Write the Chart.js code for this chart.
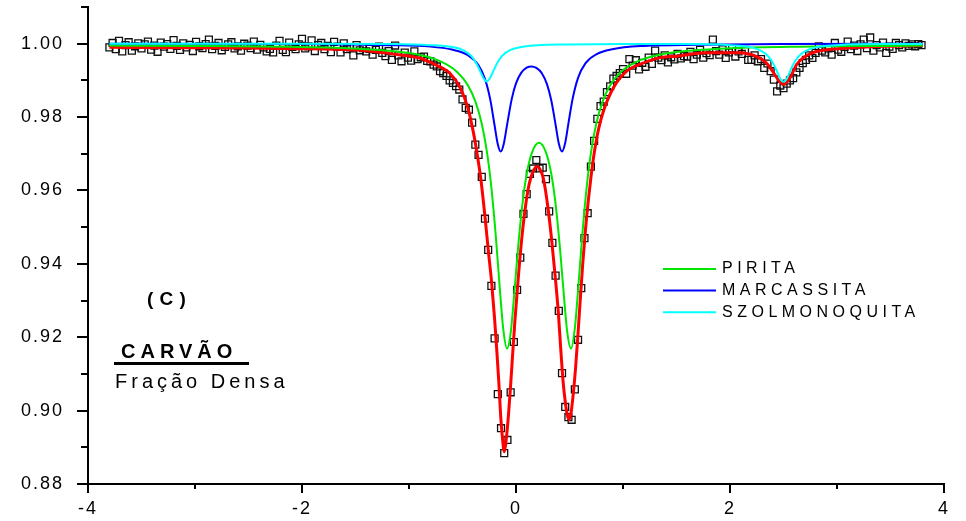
<!DOCTYPE html>
<html>
<head>
<meta charset="utf-8">
<script src="https://cdn.jsdelivr.net/npm/chart.js@4/dist/chart.umd.min.js"></script>
<style>
  html, body { margin: 0; padding: 0; background: #fff; }
  #wrap { width: 966px; height: 521px; }
</style>
</head>
<body>
<div id="wrap"><canvas id="spectrum" width="966" height="521"></canvas></div>
<script>
// Mossbauer spectrum, coal dense fraction (velocity in mm/s, relative transmission)

// experimental channels
const spectrumVel = [
  -3.80, -3.77, -3.74, -3.71, -3.68, -3.65, -3.62, -3.59, -3.56, -3.53,
  -3.50, -3.47, -3.44, -3.41, -3.38, -3.35, -3.32, -3.29, -3.26, -3.23,
  -3.20, -3.17, -3.14, -3.11, -3.08, -3.05, -3.02, -2.99, -2.96, -2.93,
  -2.90, -2.87, -2.84, -2.81, -2.78, -2.75, -2.72, -2.69, -2.66, -2.63,
  -2.60, -2.57, -2.54, -2.51, -2.48, -2.45, -2.42, -2.39, -2.36, -2.33,
  -2.30, -2.27, -2.24, -2.21, -2.18, -2.15, -2.12, -2.09, -2.06, -2.03,
  -2.00, -1.97, -1.94, -1.91, -1.88, -1.85, -1.82, -1.79, -1.76, -1.73,
  -1.70, -1.67, -1.64, -1.61, -1.58, -1.55, -1.52, -1.49, -1.46, -1.43,
  -1.40, -1.37, -1.34, -1.31, -1.28, -1.25, -1.22, -1.19, -1.16, -1.13,
  -1.10, -1.07, -1.04, -1.01, -0.98, -0.95, -0.92, -0.89, -0.86, -0.83,
  -0.80, -0.77, -0.74, -0.71, -0.68, -0.65, -0.62, -0.59, -0.56, -0.53,
  -0.50, -0.47, -0.44, -0.41, -0.38, -0.35, -0.32, -0.29, -0.26, -0.23,
  -0.20, -0.17, -0.14, -0.11, -0.08, -0.05, -0.02, 0.01, 0.04, 0.07,
  0.10, 0.13, 0.16, 0.19, 0.22, 0.25, 0.28, 0.31, 0.34, 0.37,
  0.40, 0.43, 0.46, 0.49, 0.52, 0.55, 0.58, 0.61, 0.64, 0.67,
  0.70, 0.73, 0.76, 0.79, 0.82, 0.85, 0.88, 0.91, 0.94, 0.97,
  1.00, 1.03, 1.06, 1.09, 1.12, 1.15, 1.18, 1.21, 1.24, 1.27,
  1.30, 1.33, 1.36, 1.39, 1.42, 1.45, 1.48, 1.51, 1.54, 1.57,
  1.60, 1.63, 1.66, 1.69, 1.72, 1.75, 1.78, 1.81, 1.84, 1.87,
  1.90, 1.93, 1.96, 1.99, 2.02, 2.05, 2.08, 2.11, 2.14, 2.17,
  2.20, 2.23, 2.26, 2.29, 2.32, 2.35, 2.38, 2.41, 2.44, 2.47,
  2.50, 2.53, 2.56, 2.59, 2.62, 2.65, 2.68, 2.71, 2.74, 2.77,
  2.80, 2.83, 2.86, 2.89, 2.92, 2.95, 2.98, 3.01, 3.04, 3.07,
  3.10, 3.13, 3.16, 3.19, 3.22, 3.25, 3.28, 3.31, 3.34, 3.37,
  3.40, 3.43, 3.46, 3.49, 3.52, 3.55, 3.58, 3.61, 3.64, 3.67,
  3.70, 3.73, 3.76, 3.79
];
const spectrumT = [
  0.9990, 1.0002, 0.9985, 1.0008, 0.9979, 0.9996, 1.0004, 0.9981, 0.9993, 1.0001,
  0.9987, 0.9998, 1.0006, 0.9984, 0.9995, 0.9978, 1.0003, 0.9992, 0.9999, 0.9986,
  1.0010, 0.9994, 0.9983, 1.0001, 0.9990, 0.9997, 0.9980, 1.0005, 0.9993, 0.9988,
  0.9999, 1.0011, 0.9985, 0.9994, 1.0002, 0.9982, 0.9991, 0.9998, 1.0004, 0.9987,
  0.9993, 0.9981, 1.0000, 0.9995, 0.9988, 1.0006, 0.9984, 0.9997, 0.9990, 0.9979,
  0.9986, 0.9976, 0.9995, 1.0008, 0.9983, 0.9977, 1.0003, 0.9991, 0.9985, 0.9998,
  1.0013, 0.9987, 0.9993, 1.0009, 0.9980, 0.9996, 1.0002, 0.9985, 0.9994, 0.9977,
  1.0005, 0.9992, 0.9976, 1.0001, 0.9985, 0.9990, 0.9968, 0.9996, 0.9982, 0.9988,
  0.9979, 0.9986, 0.9970, 0.9983, 0.9992, 0.9975, 0.9966, 0.9980, 0.9956, 0.9995,
  0.9968, 0.9952, 0.9976, 0.9962, 0.9954, 0.9979, 0.9958, 0.9963, 0.9965, 0.9953,
  0.9952, 0.9943, 0.9938, 0.9925, 0.9920, 0.9912, 0.9900, 0.9893, 0.9884, 0.9875,
  0.9848, 0.9825, 0.9820, 0.9785, 0.9725, 0.9697, 0.9637, 0.9523, 0.9438, 0.9340,
  0.9197, 0.9045, 0.8952, 0.8884, 0.8920, 0.9050, 0.9187, 0.9329, 0.9417, 0.9536,
  0.9590, 0.9645, 0.9660, 0.9683, 0.9660, 0.9662, 0.9631, 0.9543, 0.9457, 0.9368,
  0.9272, 0.9102, 0.9010, 0.8982, 0.8975, 0.9058, 0.9193, 0.9334, 0.9470, 0.9538,
  0.9665, 0.9735, 0.9795, 0.9830, 0.9842, 0.9868, 0.9884, 0.9905, 0.9912, 0.9920,
  0.9931, 0.9918, 0.9958, 0.9940, 0.9955, 0.9930, 0.9948, 0.9937, 0.9962, 0.9945,
  0.9981, 0.9962, 0.9955, 0.9968, 0.9949, 0.9963, 0.9957, 0.9972, 0.9960, 0.9966,
  0.9965, 0.9978, 0.9958, 0.9970, 0.9983, 0.9962, 0.9974, 0.9969, 1.0011, 0.9980,
  0.9970, 0.9985, 0.9961, 0.9976, 0.9988, 0.9965, 0.9979, 0.9972, 0.9983, 0.9956,
  0.9956, 0.9968, 0.9952, 0.9958, 0.9934, 0.9946, 0.9925, 0.9902, 0.9870, 0.9886,
  0.9879, 0.9891, 0.9900, 0.9906, 0.9922, 0.9934, 0.9947, 0.9956, 0.9968, 0.9961,
  0.9975, 0.9993, 0.9981, 0.9976, 0.9987, 0.9970, 1.0002, 0.9984, 0.9978, 0.9991,
  1.0006, 0.9985, 0.9995, 0.9980, 0.9998, 1.0011, 0.9988, 1.0017, 0.9981, 0.9996,
  0.9990, 1.0003, 0.9975, 0.9992, 0.9986, 1.0002, 0.9996, 0.9990, 1.0001, 0.9994,
  0.9998, 0.9993, 0.9999, 0.9996
];

// total fit
const fitVel = [
  -3.80, -3.00, -2.50, -1.90, -1.40, -1.10, -0.90, -0.77, -0.62, -0.52,
  -0.45, -0.40, -0.37, -0.33, -0.29, -0.26, -0.227, -0.20, -0.18, -0.16,
  -0.143, -0.125, -0.112, -0.09, -0.07, -0.05, -0.03, -0.01, 0.01, 0.035,
  0.065, 0.095, 0.125, 0.16, 0.196, 0.225, 0.255, 0.30, 0.335, 0.365,
  0.395, 0.42, 0.44, 0.46, 0.478, 0.495, 0.515, 0.535, 0.555, 0.575,
  0.60, 0.625, 0.65, 0.675, 0.70, 0.73, 0.77, 0.816, 0.909, 1.034,
  1.17, 1.35, 1.50, 1.78, 2.09, 2.25, 2.30, 2.34, 2.38, 2.42,
  2.46, 2.50, 2.54, 2.58, 2.62, 2.67, 2.73, 2.80, 2.888, 3.137,
  3.45, 3.80
];
const fitT = [
  0.9990, 0.9989, 0.9988, 0.9986, 0.9981, 0.9970, 0.9961, 0.9945, 0.9920, 0.9879,
  0.9825, 0.9761, 0.9712, 0.9634, 0.9529, 0.9440, 0.9347, 0.9250, 0.9166, 0.9075,
  0.8984, 0.8920, 0.8888, 0.8925, 0.8990, 0.9070, 0.9160, 0.9245, 0.9320, 0.9410,
  0.9500, 0.9570, 0.9620, 0.9652, 0.9665, 0.9657, 0.9634, 0.9550, 0.9460, 0.9370,
  0.9270, 0.9160, 0.9080, 0.9025, 0.8990, 0.8975, 0.8995, 0.9045, 0.9110, 0.9190,
  0.9300, 0.9405, 0.9495, 0.9570, 0.9635, 0.9700, 0.9765, 0.9815, 0.9879, 0.9925,
  0.9945, 0.9962, 0.9966, 0.9975, 0.9975, 0.9965, 0.9957, 0.9947, 0.9933, 0.9915,
  0.9898, 0.9889, 0.9898, 0.9918, 0.9942, 0.9958, 0.9970, 0.9978, 0.9983, 0.9989,
  0.9993, 0.9995
];

// pirita doublet
const pirVel = [
  -3.80, -3.00, -2.20, -1.60, -1.20, -0.90, -0.70, -0.55, -0.45, -0.38,
  -0.32, -0.27, -0.23, -0.19, -0.15, -0.12, -0.084, -0.05, -0.02, 0.02,
  0.06, 0.10, 0.15, 0.215, 0.28, 0.33, 0.37, 0.41, 0.45, 0.48,
  0.514, 0.55, 0.58, 0.62, 0.66, 0.70, 0.75, 0.81, 0.88, 0.98,
  1.13, 1.33, 1.63, 2.03, 2.63, 3.43, 3.80
];
const pirT = [
  0.9995, 0.9994, 0.9992, 0.9988, 0.9981, 0.9969, 0.9951, 0.9923, 0.9887, 0.9843,
  0.9782, 0.9702, 0.9608, 0.9480, 0.9328, 0.9225, 0.9169, 0.9211, 0.9305, 0.9446,
  0.9563, 0.9645, 0.9704, 0.9730, 0.9704, 0.9645, 0.9563, 0.9446, 0.9305, 0.9211,
  0.9169, 0.9225, 0.9328, 0.9480, 0.9608, 0.9702, 0.9782, 0.9843, 0.9887, 0.9923,
  0.9951, 0.9969, 0.9981, 0.9988, 0.9992, 0.9994, 0.9995
];

// marcassita doublet
const marVel = [
  -3.80, -2.00, -1.20, -0.80, -0.60, -0.45, -0.35, -0.29, -0.24, -0.20,
  -0.17, -0.143, -0.115, -0.085, -0.04, 0.00, 0.05, 0.10, 0.146, 0.19,
  0.24, 0.29, 0.33, 0.37, 0.40, 0.43, 0.46, 0.49, 0.53, 0.58,
  0.65, 0.75, 0.90, 1.20, 1.70, 2.50, 3.80
];
const marT = [
  1.0000, 0.9999, 0.9996, 0.9992, 0.9984, 0.9969, 0.9941, 0.9904, 0.9847, 0.9777,
  0.9726, 0.9706, 0.9726, 0.9776, 0.9849, 0.9892, 0.9921, 0.9935, 0.9938, 0.9934,
  0.9920, 0.9889, 0.9845, 0.9779, 0.9728, 0.9706, 0.9730, 0.9783, 0.9851, 0.9907,
  0.9947, 0.9971, 0.9985, 0.9994, 0.9997, 0.9999, 1.0000
];

// szolmonoquita doublet
const szoVel = [
  -3.80, -2.00, -1.20, -0.80, -0.60, -0.50, -0.42, -0.37, -0.33, -0.30,
  -0.274, -0.25, -0.22, -0.18, -0.13, -0.05, 0.05, 0.20, 0.50, 1.00,
  1.60, 2.00, 2.20, 2.30, 2.36, 2.41, 2.45, 2.475, 2.50, 2.525,
  2.55, 2.59, 2.64, 2.70, 2.80, 3.00, 3.40, 3.80
];
const szoT = [
  1.0000, 1.0000, 0.9999, 0.9996, 0.9991, 0.9983, 0.9967, 0.9946, 0.9922, 0.9904,
  0.9897, 0.9903, 0.9920, 0.9945, 0.9967, 0.9983, 0.9991, 0.9996, 0.9998, 0.9999,
  0.9999, 0.9996, 0.9990, 0.9979, 0.9965, 0.9943, 0.9917, 0.9902, 0.9896, 0.9902,
  0.9917, 0.9943, 0.9965, 0.9979, 0.9990, 0.9996, 0.9999, 0.9999
];

const legendNames = ['PIRITA', 'MARCASSITA', 'SZOLMONOQUITA'];
const legendColors = ['#00e600', '#0000ff', '#00ffff'];

const FONT = '"Liberation Sans", Arial, sans-serif';

const toPoints = (xs, ys) => xs.map((x, i) => ({ x: x, y: ys[i] }));

function fitLine(label, xs, ys, color, width) {
  return {
    type: 'line',
    label: label,
    data: toPoints(xs, ys),
    borderColor: color,
    borderWidth: width,
    pointRadius: 0,
    fill: false,
    cubicInterpolationMode: 'monotone'
  };
}

const isEven = (v, k) => Math.round(v * k) % 2 === 0;

// no extra room around the axes, the plot box is fixed by the layout padding
function noScalePadding(s) {
  s.paddingTop = 0;
  s.paddingBottom = 0;
  s.paddingLeft = 0;
  s.paddingRight = 0;
}

// tick marks drawn by hand so major and minor can differ in length
const axisTicks = {
  id: 'axisTicks',
  beforeDraw(chart) {
    chart.ctx.letterSpacing = '2px';
  },
  afterDraw(chart) {
    const { ctx, scales: { x, y } } = chart;
    ctx.save();
    ctx.strokeStyle = '#000';
    ctx.lineWidth = 2;
    ctx.beginPath();
    x.ticks.forEach(t => {
      const px = Math.round(x.getPixelForValue(t.value));
      const len = isEven(t.value, 1) ? 9 : 5;
      ctx.moveTo(px, x.top);
      ctx.lineTo(px, x.top + len);
    });
    y.ticks.forEach(t => {
      const py = Math.round(y.getPixelForValue(t.value));
      const len = isEven(t.value, 100) ? 11 : 7;
      ctx.moveTo(y.right, py);
      ctx.lineTo(y.right - len, py);
    });
    ctx.stroke();
    ctx.restore();
  }
};

// sample label and legend
const annotations = {
  id: 'annotations',
  afterDraw(chart) {
    const ctx = chart.ctx;
    ctx.save();
    ctx.fillStyle = '#000';
    ctx.textAlign = 'left';

    ctx.textBaseline = 'middle';
    ctx.letterSpacing = '0.5px';
    ctx.font = 'bold 19px ' + FONT;
    ctx.fillText('( C )', 147, 300);

    ctx.textBaseline = 'alphabetic';
    ctx.letterSpacing = '5px';
    ctx.font = 'bold 20px ' + FONT;
    ctx.fillText('CARVÃO', 121, 358);
    ctx.fillRect(114, 362, 135, 3);

    ctx.letterSpacing = '4px';
    ctx.font = '20px ' + FONT;
    ctx.fillText('Fração Densa', 115, 388);

    ctx.textBaseline = 'middle';
    ctx.letterSpacing = '4.5px';
    ctx.font = '16px ' + FONT;
    legendNames.forEach((name, i) => {
      const ly = 269 + i * 21.6;
      ctx.strokeStyle = legendColors[i];
      ctx.lineWidth = 2;
      ctx.beginPath();
      ctx.moveTo(663, ly);
      ctx.lineTo(716, ly);
      ctx.stroke();
      ctx.fillText(name, 722, ly);
    });
    ctx.restore();
    ctx.letterSpacing = '0px';
  }
};

new Chart(document.getElementById('spectrum'), {
  type: 'scatter',
  data: {
    datasets: [
      fitLine('SZOLMONOQUITA', szoVel, szoT, legendColors[2], 2),
      fitLine('MARCASSITA', marVel, marT, legendColors[1], 2),
      fitLine('PIRITA', pirVel, pirT, legendColors[0], 2),
      fitLine('Ajuste', fitVel, fitT, '#ff0000', 3),
      {
        type: 'scatter',
        label: 'Espectro',
        data: toPoints(spectrumVel, spectrumT),
        pointStyle: 'rect',
        pointRadius: 4.9,
        borderWidth: 1.3,
        borderColor: '#111',
        backgroundColor: 'rgba(0,0,0,0)'
      }
    ]
  },
  options: {
    responsive: false,
    animation: false,
    devicePixelRatio: 1,
    layout: { padding: { top: 7, right: 22, left: 0, bottom: 0 } },
    plugins: {
      legend: { display: false },
      tooltip: { enabled: false }
    },
    scales: {
      x: {
        type: 'linear',
        min: -4,
        max: 4,
        grid: { display: false, drawTicks: false },
        border: { display: true, color: '#000', width: 2 },
        ticks: {
          stepSize: 1,
          autoSkip: false,
          maxRotation: 0,
          padding: 14,
          color: '#000',
          font: { family: FONT, size: 18 },
          callback: v => (isEven(v, 1) ? String(v) : '')
        },
        afterFit: s => { s.height = 37; noScalePadding(s); }
      },
      y: {
        type: 'linear',
        min: 0.88,
        max: 1.01,
        grid: { display: false, drawTicks: false },
        border: { display: true, color: '#000', width: 2 },
        ticks: {
          stepSize: 0.01,
          autoSkip: false,
          padding: 24,
          color: '#000',
          font: { family: FONT, size: 18 },
          callback: v => (isEven(v, 100) && v < 1.005 ? v.toFixed(2) : '')
        },
        afterFit: s => { s.width = 88; noScalePadding(s); }
      }
    }
  },
  plugins: [axisTicks, annotations]
});
</script>
</body>
</html>
